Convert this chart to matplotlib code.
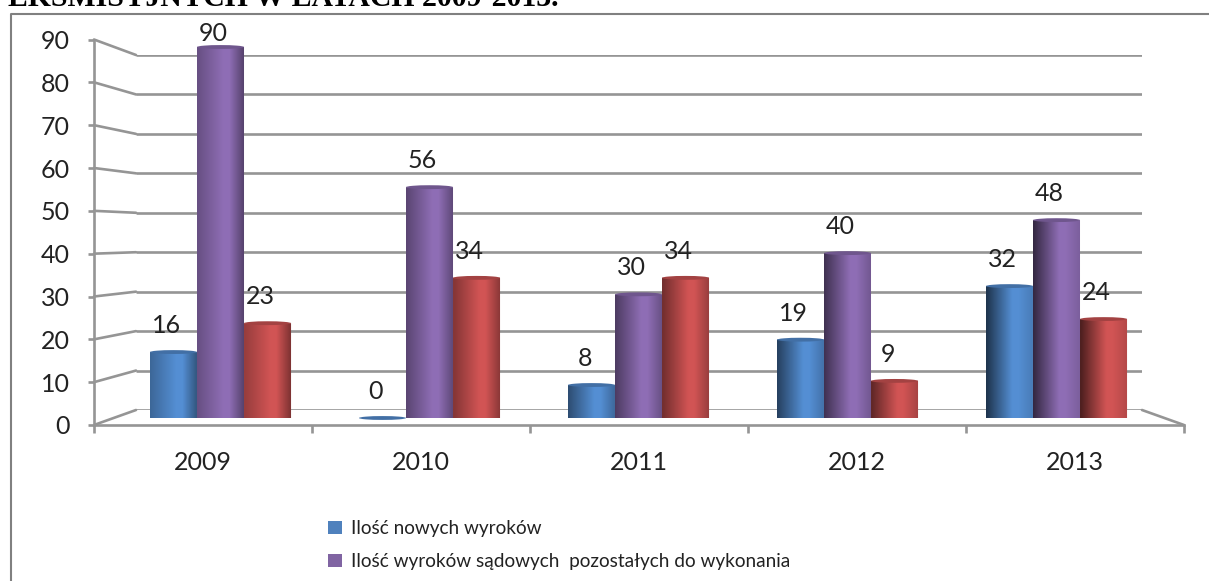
import numpy as np
import matplotlib
matplotlib.use("Agg")
import matplotlib.pyplot as plt
from matplotlib.lines import Line2D
from matplotlib.patches import ConnectionPatch, Ellipse, Patch, PathPatch
from matplotlib.path import Path

plt.rcParams["font.family"] = ["Lato", "DejaVu Sans"]

W, H = 1209, 581

years = ["2009", "2010", "2011", "2012", "2013"]
new_rulings = [16, 0, 8, 19, 32]
pending_rulings = [90, 56, 30, 40, 48]
third_series = [23, 34, 34, 9, 24]
y_ticks = [0, 10, 20, 30, 40, 50, 60, 70, 80, 90]

title = "EKSMISYJNYCH W LATACH 2009-2013."
legend_labels = ["Ilość nowych wyroków", "Ilość wyroków sądowych  pozostałych do wykonania"]

BLUE = np.array([0.33, 0.56, 0.83])
PURPLE = np.array([0.56, 0.43, 0.71])
RED = np.array([0.82, 0.33, 0.33])
GRID = "#959595"
TEXT = "#222222"


def px_axes(fig, left, top, right, bottom, zorder):
    ax = fig.add_axes([left / W, 1 - bottom / H, (right - left) / W, (bottom - top) / H], zorder=zorder)
    ax.patch.set_visible(False)
    return ax


def shade(color, group):
    # left edge gets darker and right edge lighter going along the chart (3d light)
    left = 0.72 - 0.09 * group
    right = 0.58 + 0.07 * group
    t = np.linspace(0, 1, 60)
    f = np.interp(t, [0, 0.55, 0.68, 1], [left, 1.0, 1.0, right])
    return (color[None, None, :] * f[None, :, None]).clip(0, 1)


def draw_cylinder(ax, x, width, value, color, group, cap):
    left, right = x - width / 2, x + width / 2
    if value > 0:
        k = 0.5523
        path = Path(
            [(left, value), (left, 0), (left, -cap * k), (x - width * k / 2, -cap), (x, -cap),
             (x + width * k / 2, -cap), (right, -cap * k), (right, 0), (right, value), (left, value)],
            [Path.MOVETO, Path.LINETO, Path.CURVE4, Path.CURVE4, Path.CURVE4,
             Path.CURVE4, Path.CURVE4, Path.CURVE4, Path.LINETO, Path.CLOSEPOLY],
        )
        im = ax.imshow(shade(color, group), extent=(left, right, -cap, value), aspect="auto",
                       interpolation="bilinear", zorder=group + 2)
        clip = PathPatch(path, transform=ax.transData, facecolor="none", edgecolor="none")
        ax.add_patch(clip)
        im.set_clip_box(None)
        im.set_clip_path(clip)
    ax.add_patch(Ellipse((x, value), width, cap * 1.7, facecolor=color * 0.78, edgecolor="none",
                         zorder=group + 2.5, clip_on=False))


fig = plt.figure(figsize=(W / 100, H / 100), dpi=100, facecolor="white")

# back wall of the 3d box
back = px_axes(fig, 136, 55, 1142, 410, 0)
back.set_xlim(0, 5)
back.set_ylim(0, 90)
back.axis("off")
back.hlines(y_ticks, 0, 5, color=GRID, lw=1.9)

# front axes with the ticks and labels
ax = px_axes(fig, 94, 39.5, 1184, 425, 1)
ax.set_xlim(0, 5)
ax.set_ylim(0, 90)
for side in ["top", "right"]:
    ax.spines[side].set_visible(False)
for side in ["left", "bottom"]:
    ax.spines[side].set_color(GRID)
    ax.spines[side].set_linewidth(1.9)
ax.set_yticks(y_ticks)
ax.set_xticks(range(6))
ax.set_xticklabels([])
ax.set_xticks(np.arange(5) + 0.5, years, minor=True)
ax.tick_params(axis="y", length=4.5, width=1.9, color=GRID, labelsize=18, labelcolor=TEXT, pad=13)
ax.tick_params(axis="x", which="major", length=6, width=1.9, color=GRID)
ax.tick_params(axis="x", which="minor", length=0, labelsize=18, labelcolor=TEXT, pad=19)

for v in y_ticks:
    fig.add_artist(ConnectionPatch((0, v), (0, v), "data", "data", axesA=ax, axesB=back, color=GRID, lw=1.9))
fig.add_artist(ConnectionPatch((5, 0), (5, 0), "data", "data", axesA=ax, axesB=back, color=GRID, lw=1.9))

# cylinders stand halfway between the wall and the front
bars = px_axes(fig, 116, 47, 1161, 418, 2)
bars.axis("off")
bar_w = 0.225
cap = 0.55
for i in range(len(years)):
    series = [(new_rulings[i], BLUE), (pending_rulings[i], PURPLE), (third_series[i], RED)]
    for j, (value, color) in enumerate(series):
        x = i + 0.5 + (j - 1) * bar_w
        draw_cylinder(bars, x, bar_w, value, color, i, cap)
        offset = 9.5 if value == 90 else 19
        bars.annotate(str(value), (x, value), xytext=(-5, offset), textcoords="offset points",
                      ha="center", va="center", fontsize=18, color=TEXT, zorder=20, annotation_clip=False)
bars.set_xlim(0, 5)
bars.set_ylim(0, 90)

# frame of the embedded picture and the cut off heading above it
fig.add_artist(Line2D([10.5 / W, 10.5 / W, 1], [0, 1 - 13.5 / H, 1 - 13.5 / H], color="#808080", lw=1.5))
fig.text(8 / W, 1 - 6.5 / H, title, family="Liberation Serif", weight="bold", fontsize=21.4,
         color="black", ha="left", va="baseline")

handles = [Patch(facecolor="#4f81bd", label=legend_labels[0]), Patch(facecolor="#8064a2", label=legend_labels[1])]
fig.legend(handles=handles, loc="upper left", bbox_to_anchor=(328 / W, 1 - 520 / H), frameon=False,
           fontsize=13.7, labelcolor=TEXT, handlelength=0.73, handleheight=0.73, handletextpad=0.5,
           labelspacing=0.85, borderpad=0, borderaxespad=0)

fig.savefig("out.png", dpi=100)
